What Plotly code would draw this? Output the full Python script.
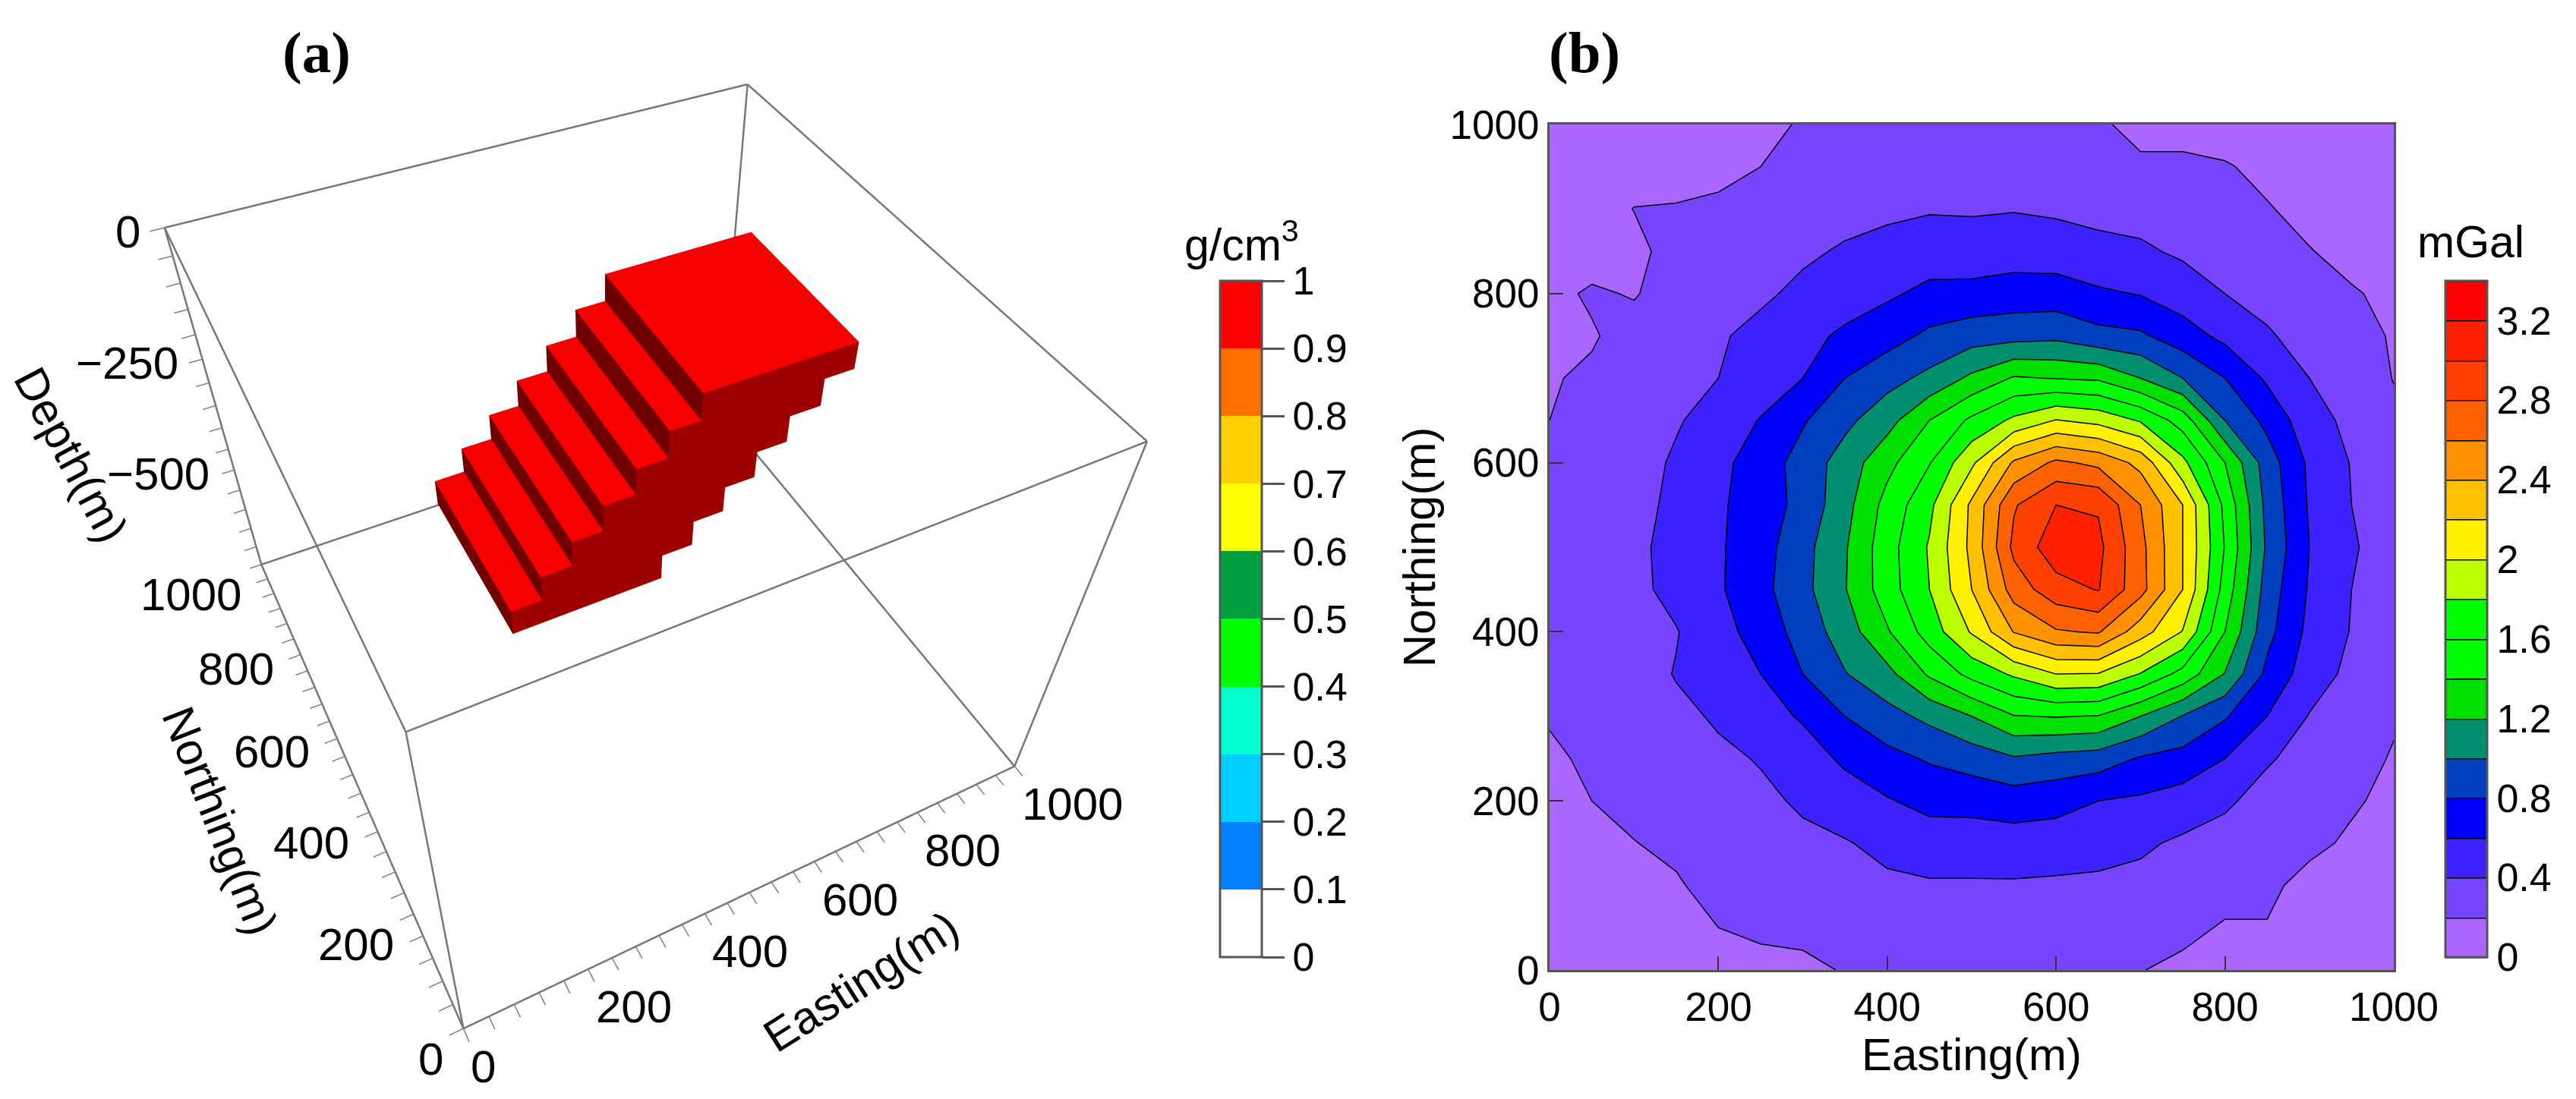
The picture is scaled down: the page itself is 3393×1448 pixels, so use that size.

import plotly.graph_objects as go

# ---------- panel (a): density model ----------
easting_range = [0, 1000]
northing_range = [0, 1000]
depth_range = [-750, 0]
block_e_lo = [290, 343, 397, 450, 505, 559, 612]
block_e_hi = [556, 611, 665, 719, 773, 829, 883]
block_z_levels = [-505, -450, -396, -342, -287, -233, -178, -125]
block_n = [451, 771]
block_density = 1.0
density_colors = ["#FFFFFF", "#0080FF", "#00D0FF", "#00FFD0", "#00FF00",
                  "#00A040", "#FFFF00", "#FFD000", "#FF7000", "#FF0000"]
density_ticks = [0, 0.1, 0.2, 0.3, 0.4, 0.5, 0.6, 0.7, 0.8, 0.9, 1]
en_ticks = list(range(0, 1001, 40))
easting_labels = [0, 200, 400, 600, 800, 1000]
northing_labels = [0, 200, 400, 600, 800, 1000]
depth_ticks = list(range(-750, 1, 50))
depth_labels = [0, -250, -500]

# ---------- panel (b): gravity anomaly, rows south to north ----------
grid_e = list(range(0, 1001, 50))
grid_n = list(range(0, 1001, 50))
gravity = [
 [.06,.08,.09,.10,.11,.12,.13,.22,.24,.25,.25,.25,.24,.23,.205,.165,.14,.12,.10,.08,.06],
 [.08,.11,.13,.15,.20,.25,.28,.30,.31,.32,.32,.32,.31,.30,.28,.24,.185,.19,.12,.10,.08],
 [.10,.14,.16,.18,.27,.29,.31,.33,.36,.38,.38,.38,.37,.37,.35,.30,.26,.24,.14,.12,.09],
 [.12,.155,.195,.24,.27,.31,.37,.385,.46,.50,.50,.51,.50,.46,.43,.37,.33,.29,.245,.17,.12],
 [.15,.20,.25,.29,.33,.37,.42,.52,.585,.66,.665,.70,.67,.60,.57,.51,.43,.33,.28,.225,.15],
 [.18,.22,.27,.32,.37,.41,.52,.63,.74,.82,.89,.98,.93,.90,.78,.73,.60,.42,.33,.27,.185],
 [.21,.25,.30,.36,.42,.53,.62,.80,.93,1.05,1.20,1.39,1.41,1.39,1.20,.99,.82,.60,.39,.30,.22],
 [.24,.27,.32,.41,.50,.60,.80,.99,1.14,1.43,1.66,1.83,2.00,1.99,1.79,1.53,1.19,.75,.50,.35,.28],
 [.26,.28,.33,.39,.53,.68,.88,1.10,1.38,1.69,2.02,2.41,2.58,2.62,2.29,1.99,1.40,.86,.55,.39,.30],
 [.26,.29,.35,.46,.575,.74,.94,1.19,1.51,1.80,2.20,2.69,2.92,3.01,2.67,2.20,1.52,.91,.58,.40,.30],
 [.26,.29,.36,.46,.575,.72,.93,1.18,1.52,1.82,2.25,2.85,3.12,3.05,2.66,2.20,1.59,.966,.60,.42,.31],
 [.24,.27,.33,.45,.57,.70,.86,1.13,1.47,1.75,2.24,2.78,3.00,2.98,2.60,2.20,1.55,.94,.58,.40,.30],
 [.22,.25,.31,.43,.55,.69,.88,1.09,1.34,1.59,1.96,2.43,2.64,2.55,2.34,1.85,1.40,.90,.565,.39,.29],
 [.20,.23,.29,.38,.49,.61,.78,.95,1.125,1.40,1.64,1.84,2.01,1.94,1.78,1.51,1.00,.745,.48,.35,.23],
 [.18,.24,.28,.33,.40,.50,.60,.80,.93,1.05,1.24,1.42,1.39,1.37,1.20,1.00,.80,.57,.40,.29,.195],
 [.15,.176,.30,.33,.38,.45,.55,.63,.72,.84,.91,.93,.95,.86,.83,.69,.55,.42,.33,.28,.18],
 [.13,.234,.181,.32,.34,.37,.44,.52,.57,.65,.66,.69,.69,.63,.59,.50,.40,.34,.28,.22,.15],
 [.11,.08,.13,.30,.30,.32,.37,.42,.45,.50,.49,.51,.50,.45,.43,.37,.33,.28,.21,.13,.10],
 [.10,.10,.205,.215,.25,.28,.31,.34,.37,.385,.38,.39,.37,.35,.33,.31,.27,.216,.13,.10,.08],
 [.08,.08,.10,.11,.125,.20,.26,.28,.30,.31,.31,.31,.29,.27,.228,.245,.22,.14,.10,.08,.06],
 [.06,.06,.07,.08,.10,.13,.225,.24,.25,.25,.25,.25,.24,.225,.15,.12,.08,.07,.06,.05,.04],
]
gravity_levels = [0, 3.4, 0.2]
gravity_colors = ["#AA66FF", "#7744FF", "#3D22FF", "#0000FF", "#0040C0", "#009070",
                  "#00E000", "#00FF00", "#00FF00", "#BBFF00", "#FFF000", "#FFC000",
                  "#FF9000", "#FF6000", "#FF4000", "#FF2000", "#FF0000"]

FONT = "Liberation Sans"
W, H = 3393, 1448
FACE_SHADE = {"tread": 0.97, "side": 0.62, "riser": 0.44}


def stepped(colors):
    n = len(colors)
    out = []
    for i, c in enumerate(colors):
        out += [[i / n, c], [(i + 1) / n, c]]
    return out


def mesh_groups():
    groups = {name: dict(x=[], y=[], z=[], i=[], j=[], k=[]) for name in FACE_SHADE}

    def quad(name, p0, p1, p2, p3):
        g = groups[name]
        b = len(g["x"])
        for p in (p0, p1, p2, p3):
            g["x"].append(p[0]); g["y"].append(p[1]); g["z"].append(p[2])
        g["i"].extend([b, b]); g["j"].extend([b + 1, b + 2]); g["k"].extend([b + 2, b + 3])

    n0, n1 = block_n
    last = len(block_e_lo) - 1
    for b, (lo, hi) in enumerate(zip(block_e_lo, block_e_hi)):
        zb, zt = block_z_levels[b], block_z_levels[b + 1]
        tread_end = hi if b == last else block_e_lo[b + 1]
        under_start = lo if b == 0 else block_e_hi[b - 1]
        for n in (n0, n1):
            quad("side", (lo, n, zb), (hi, n, zb), (hi, n, zt), (lo, n, zt))
        quad("tread", (lo, n0, zt), (tread_end, n0, zt), (tread_end, n1, zt), (lo, n1, zt))
        quad("riser", (under_start, n0, zb), (hi, n0, zb), (hi, n1, zb), (under_start, n1, zb))
        quad("riser", (lo, n0, zb), (lo, n1, zb), (lo, n1, zt), (lo, n0, zt))
        quad("riser", (hi, n0, zb), (hi, n1, zb), (hi, n1, zt), (hi, n0, zt))
    return groups


def box_edges():
    x0, x1 = easting_range
    y0, y1 = northing_range
    z0, z1 = depth_range
    ex, ey, ez = [], [], []
    for a, b in [((x0, y0, z0), (x1, y0, z0)), ((x1, y0, z0), (x1, y1, z0)), ((x1, y1, z0), (x0, y1, z0)),
                 ((x0, y1, z0), (x0, y0, z0)), ((x0, y0, z1), (x1, y0, z1)), ((x1, y0, z1), (x1, y1, z1)),
                 ((x1, y1, z1), (x0, y1, z1)), ((x0, y1, z1), (x0, y0, z1)), ((x0, y0, z0), (x0, y0, z1)),
                 ((x1, y0, z0), (x1, y0, z1)), ((x1, y1, z0), (x1, y1, z1)), ((x0, y1, z0), (x0, y1, z1))]:
        ex += [a[0], b[0], None]; ey += [a[1], b[1], None]; ez += [a[2], b[2], None]
    return ex, ey, ez


fig = go.Figure()
density_bar = dict(
    x=1599 / W, xanchor="left", xpad=0, y=(H - 1253) / H, yanchor="bottom", ypad=0,
    len=891, lenmode="pixels", thickness=55, thicknessmode="pixels",
    outlinecolor="#555555", outlinewidth=3,
    tickmode="array", tickvals=density_ticks, ticktext=[f"{v:g}" for v in density_ticks],
    ticks="outside", ticklen=29, tickwidth=3, tickcolor="#555555",
    tickfont=dict(family=FONT, size=52, color="#000000"),
)
for name, g in mesh_groups().items():
    fig.add_trace(go.Mesh3d(
        x=g["x"], y=g["y"], z=g["z"], i=g["i"], j=g["j"], k=g["k"],
        intensity=[block_density] * len(g["x"]), cmin=0, cmax=1,
        colorscale=stepped(density_colors), flatshading=True,
        lighting=dict(ambient=FACE_SHADE[name], diffuse=0, specular=0, roughness=1, fresnel=0),
        hoverinfo="skip", name=name,
        showscale=name == "tread", colorbar=density_bar,
    ))
ex, ey, ez = box_edges()
fig.add_trace(go.Scatter3d(x=ex, y=ey, z=ez, mode="lines", line=dict(color="#777777", width=5),
                           hoverinfo="skip", showlegend=False))
fig.add_trace(go.Contour(
    x=grid_e, y=grid_n, z=gravity, xaxis="x", yaxis="y", zmin=0, zmax=3.4,
    autocontour=False,
    contours=dict(start=gravity_levels[0], end=gravity_levels[1], size=gravity_levels[2], coloring="fill"),
    line=dict(color="#000000", width=1.5, smoothing=0),
    colorscale=stepped(gravity_colors), hoverinfo="skip",
    colorbar=dict(
        x=3213 / W, xanchor="left", xpad=0, y=(H - 1253) / H, yanchor="bottom", ypad=0,
        len=891, lenmode="pixels", thickness=55, thicknessmode="pixels",
        outlinecolor="#555555", outlinewidth=3, ticks="", tick0=0, dtick=0.4,
        tickfont=dict(family=FONT, size=52, color="#000000"),
    ),
))


def axis3d(rng, ticks):
    return dict(
        title=dict(text=""),
        range=rng, autorange=False, tickmode="array", tickvals=ticks, showticklabels=False,
        ticks="outside", ticklen=15, tickwidth=3, tickcolor="#808080",
        showgrid=False, zeroline=False, showline=False, showbackground=False, showspikes=False,
    )


def tick_label(text, x, y, z, xanchor, xshift, yshift):
    return dict(x=x, y=y, z=z, text=text, showarrow=False, xanchor=xanchor, yanchor="middle",
                xshift=xshift, yshift=yshift, font=dict(family=FONT, size=60, color="#000000"))


def label(text, x, y, size=60, angle=0, family=FONT):
    return dict(text=text, x=x / W, y=(H - y) / H, xref="paper", yref="paper", showarrow=False,
                xanchor="center", yanchor="middle", textangle=angle,
                font=dict(family=family, size=size, color="#000000"))


scene_labels = (
    [tick_label(str(v), v, northing_range[0], depth_range[0], "left", 8, -50) for v in easting_labels]
    + [tick_label(str(v), easting_range[0], v, depth_range[0], "right", -24, -40) for v in northing_labels]
    + [tick_label(str(v).replace("-", "\u2212"), easting_range[0], northing_range[1], v, "right", -30, -5)
       for v in depth_labels]
)

fig.update_layout(
    width=W, height=H, margin=dict(l=0, r=0, t=0, b=0, autoexpand=False),
    paper_bgcolor="#FFFFFF", plot_bgcolor="#FFFFFF", showlegend=False,
    font=dict(family=FONT, color="#000000"),
    scene=dict(
        domain=dict(x=[0, 1686 / W], y=[0, 1]),
        aspectmode="manual", aspectratio=dict(x=1.1402, y=1.1482, z=0.8496),
        camera=dict(eye=dict(x=-0.7591, y=-1.4880, z=1.7228),
                    center=dict(x=0.0270, y=-0.0613, z=-0.0618),
                    up=dict(x=0.4323, y=0.8464, z=0.3135),
                    projection=dict(type="perspective")),
        xaxis=axis3d(easting_range, en_ticks),
        yaxis=axis3d(northing_range, en_ticks),
        zaxis=axis3d(depth_range, depth_ticks),
        annotations=scene_labels,
    ),
    xaxis=dict(
        domain=[2033 / W, 3145 / W], range=[0, 1000], dtick=200, tick0=0, ticks="inside", ticklen=18,
        tickwidth=2, tickcolor="#333333", showline=True, linecolor="#555555", linewidth=3, mirror=True,
        showgrid=False, zeroline=False, tickfont=dict(family=FONT, size=53, color="#000000"),
        title=dict(text="Easting(m)", font=dict(family=FONT, size=60, color="#000000"), standoff=6),
    ),
    yaxis=dict(
        domain=[(H - 1270) / H, (H - 156) / H], range=[0, 1000], dtick=200, tick0=0, ticks="inside", ticklen=18,
        tickwidth=2, tickcolor="#333333", showline=True, linecolor="#555555", linewidth=3, mirror=True,
        showgrid=False, zeroline=False, tickfont=dict(family=FONT, size=53, color="#000000"),
        title=dict(text="Northing(m)", font=dict(family=FONT, size=60, color="#000000"), standoff=0),
    ),
    annotations=[
        label("<b>(a)</b>", 409, 61, size=77, family="Liberation Serif"),
        label("<b>(b)</b>", 2079, 61, size=77, family="Liberation Serif"),
        label("g/cm<sup>3</sup>", 1627, 311, size=59),
        label("mGal", 3246, 311, size=59),
        label("Easting(m)", 1126, 1285, angle=-32.5),
        label("Northing(m)", 282, 1073, angle=68.5),
        label("Depth(m)", 86, 591, angle=62),
    ],
)
fig.write_html("out.html")
